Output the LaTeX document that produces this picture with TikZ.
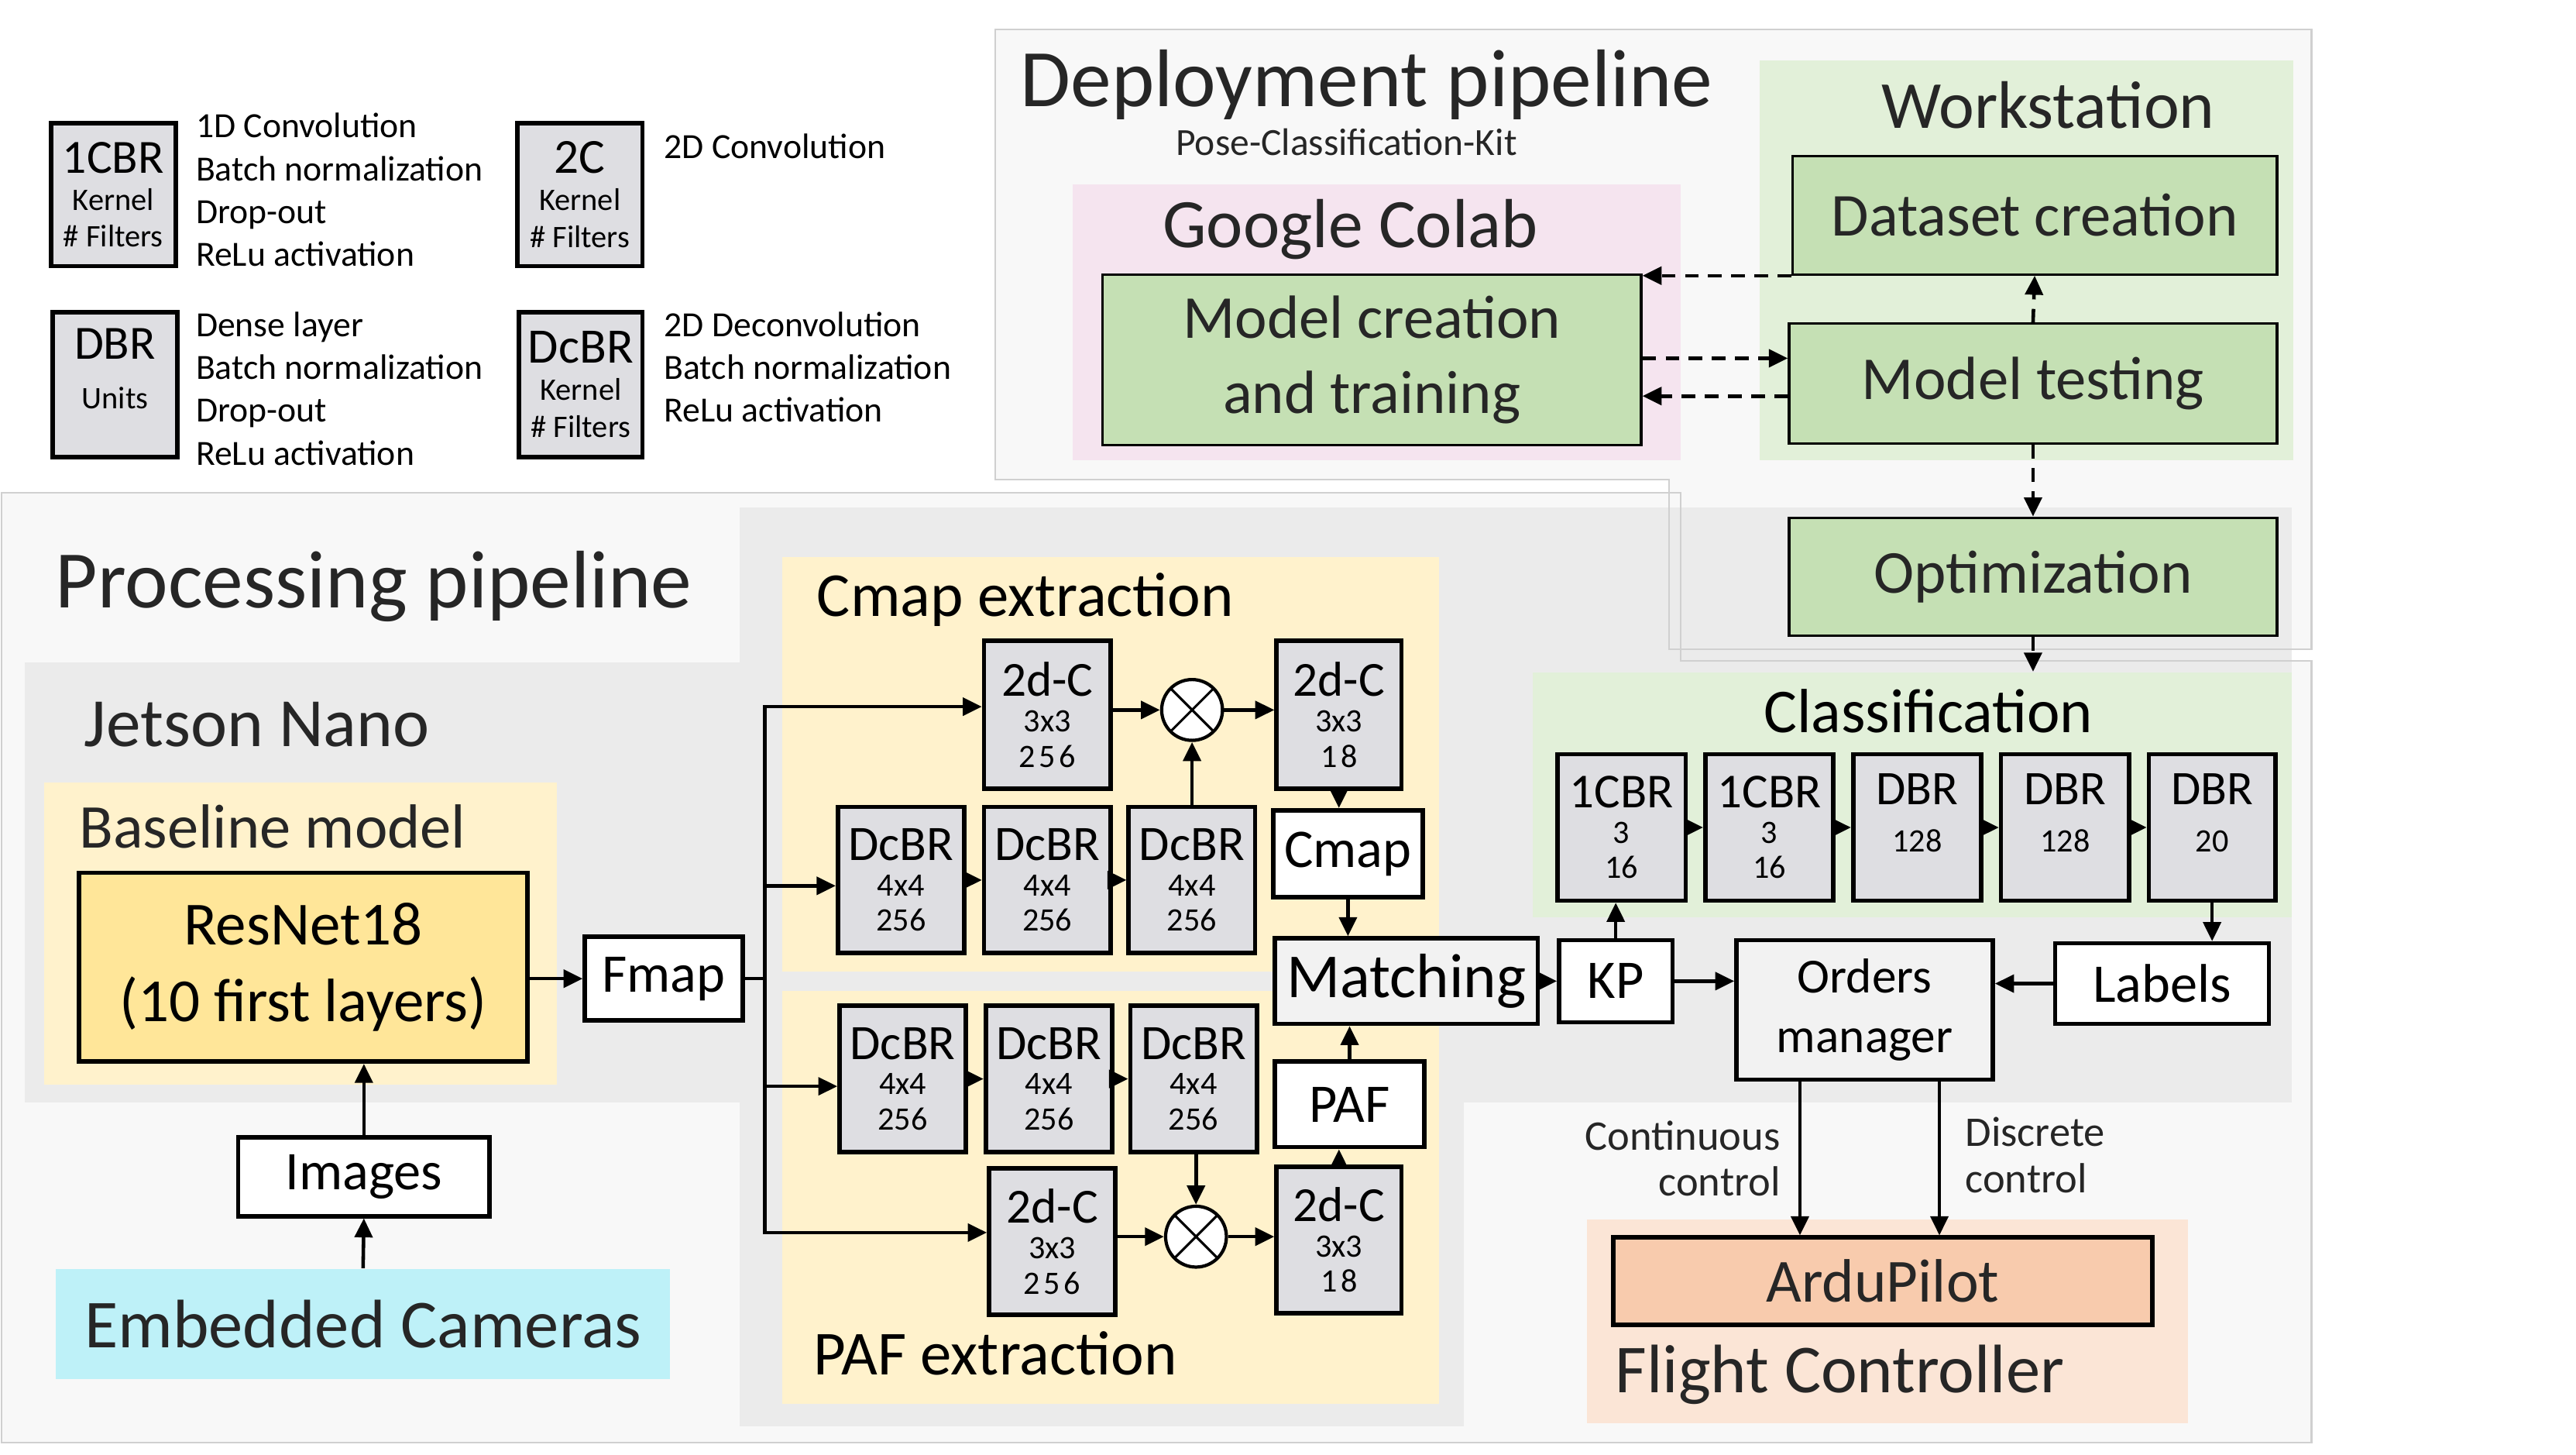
\documentclass[tikz,border=0pt]{standalone}
\usepackage{fontspec}
\setmainfont{Carlito}
\usetikzlibrary{arrows.meta}
\definecolor{panelfill}{HTML}{F8F8F8}
\definecolor{panelline}{HTML}{D0D0D0}
\definecolor{jetfill}{HTML}{EBEBEB}
\definecolor{yel}{HTML}{FFF2CC}
\definecolor{resfill}{HTML}{FFE699}
\definecolor{grnreg}{HTML}{E2F0D9}
\definecolor{grnbox}{HTML}{C5E0B4}
\definecolor{pinkreg}{HTML}{F5E4EF}
\definecolor{orreg}{HTML}{FBE5D6}
\definecolor{orbox}{HTML}{F8CBAD}
\definecolor{cyanreg}{HTML}{BEF1F8}
\definecolor{laygray}{HTML}{DEDEE2}
\definecolor{lightbox}{HTML}{F2F2F2}
\definecolor{headtxt}{HTML}{262626}
\newcommand\myfs[2]{\fontsize{#1}{#2}\selectfont}
\newcommand\spc[1]{{\addfontfeature{LetterSpace=11}#1}}
\begin{document}
\begin{tikzpicture}[x=0.021212cm,y=-0.021212cm,
 bb/.style n args={4}{minimum width={(#3-#1)*0.021212cm}, minimum height={(#4-#2)*0.021212cm},
   at={({(#1+#3)/2},{(#2+#4)/2})}},
 layer/.style={draw=black, line width=1.6pt, fill=laygray, inner sep=0pt, align=center, font=\myfs{12}{13}},
 lgbox/.style={draw=black, line width=1.6pt, fill=laygray, inner sep=0pt, align=center, font=\myfs{11.5}{13.6}},
 wbox/.style={draw=black, line width=1.6pt, fill=white, inner sep=0pt, align=center},
 gbox/.style={draw=black, line width=0.9pt, fill=grnbox, inner sep=0pt, align=center, text=headtxt, font=\myfs{22.4}{27.8}},
 region/.style={inner sep=0pt, draw=none},
 arr/.style={line width=1.3pt, -{Triangle[length=7pt,width=6.5pt]}},
 darr/.style={line width=1.3pt, dash pattern=on 5pt off 3.5pt, -{Triangle[length=7pt,width=6.5pt]}},
 otimes/.style={circle, draw=black, line width=1.2pt, fill=white, minimum size=0.785cm, inner sep=0pt,
   path picture={\draw[line width=0.9pt] (path picture bounding box.north west) -- (path picture bounding box.south east)
   (path picture bounding box.north east) -- (path picture bounding box.south west);}},
 head/.style={inner sep=0pt, text=headtxt},
 legtxt/.style={inner sep=0pt, align=left, font=\myfs{13}{15.7}},
 panel/.style={fill=panelfill},
 panelborder/.style={draw=panelline, line width=0.6pt},
]
\fill[white] (0,0) rectangle (1568,885);
\useasboundingbox (0,0) rectangle (1568,885);

% ---------- panels ----------
\fill[panel] (606,18) -- (1407,18) -- (1407,395) -- (1016,395) -- (1016,292) -- (606,292) -- cycle;
\fill[panel] (1,300) -- (1023,300) -- (1023,402) -- (1407,402) -- (1407,878) -- (1,878) -- cycle;
\fill[jetfill] (15,403) rectangle (450,671);
\fill[jetfill] (450,309) rectangle (1395,671);
\fill[jetfill] (450,671) rectangle (891,868);
\draw[panelborder] (606,18) -- (1407,18) -- (1407,395) -- (1016,395) -- (1016,292) -- (606,292) -- cycle;
\draw[panelborder] (1,300) -- (1023,300) -- (1023,402) -- (1407,402) -- (1407,878) -- (1,878) -- cycle;

% ---------- regions ----------
\node[region, fill=pinkreg, bb={653}{112}{1023}{280}] (colab) {};
\node[region, fill=grnreg, bb={1071}{37}{1396}{280}] (work) {};
\node[region, fill=yel, bb={27}{476}{339}{660}] (base) {};
\node[region, fill=yel, bb={476}{339}{876}{591}] (cmapreg) {};
\node[region, fill=yel, bb={476}{603}{876}{854}] (pafreg) {};
\node[region, fill=grnreg, bb={933}{409}{1395}{558}] (cls) {};
\node[region, fill=orreg, bb={966}{742}{1332}{866}] (fc) {};
\node[region, fill=cyanreg, text=headtxt, font=\myfs{25.2}{30}, bb={34}{772}{408}{839}] (cam) {Embedded Cameras};

% ---------- legend ----------
\node[lgbox, bb={31}{75}{107}{162}] (lg1) {{\myfs{17.5}{13}1CBR}\\Kernel\\\# Filters};
\node[lgbox, bb={315}{75}{391}{162}] (lg2) {{\myfs{18}{13}2C}\\Kernel\\\# Filters};
\node[lgbox, bb={32}{190}{108}{278}] (lg3) {{\myfs{17.5}{13}DBR}\\[4.5pt]Units\\[-6pt]\strut};
\node[lgbox, bb={316}{190}{391}{278}] (lg4) {{\myfs{18.2}{13}DcBR}\\Kernel\\\# Filters};
\node[legtxt, anchor=west] (lt1) at (119,115.5) {1D Convolution\\Batch normalization\\Drop-out\\ReLu activation};
\node[legtxt, anchor=west] (lt2) at (404,89) {2D Convolution};
\node[legtxt, anchor=west] (lt3) at (119,236.5) {Dense layer\\Batch normalization\\Drop-out\\ReLu activation};
\node[legtxt, anchor=west] (lt4) at (404,223.5) {2D Deconvolution\\Batch normalization\\ReLu activation};

% ---------- deployment ----------
\node[head, anchor=base west, font=\myfs{30}{36}] (tdep) at (621,65) {Deployment pipeline};
\node[head, anchor=base, font=\myfs{14.1}{16}] (tpck) at (819.6,94.6) {Pose-Classification-Kit};
\node[head, anchor=base, font=\myfs{25.5}{30}] (tcolab) at (822,150.5) {Google Colab};
\node[head, anchor=base, font=\myfs{24.7}{30}] (twork) at (1246.7,78) {Workstation};
\node[gbox, bb={1091}{95}{1386}{167}] (ds) {Dataset creation};
\node[gbox, bb={1089}{197}{1386}{270}] (mt) {Model testing};
\node[gbox, bb={671}{167}{999}{271}] (mc) {Model creation\\and training};
\node[gbox, bb={1089}{315}{1386}{387}] (opt) {Optimization};
\coordinate (yA) at (0,218);
\coordinate (yB) at (0,241);
\draw[darr] (ds.south west) -- (ds.south west -| mc.east);
\draw[darr] (mc.east |- yA) -- (mt.west |- yA);
\draw[darr] (mt.west |- yB) -- (mc.east |- yB);
\draw[darr] (mt.north) -- (ds.south);
\draw[darr] (mt.south) -- (opt.north);
\draw[darr] (opt.south) -- (opt.south |- cls.north);

% ---------- processing ----------
\node[head, anchor=base west, font=\myfs{30}{36}] (tproc) at (33.6,369.6) {Processing pipeline};
\node[head, anchor=base west, font=\myfs{25.4}{30}] (tjet) at (51,454) {Jetson Nano};
\node[head, anchor=base west, font=\myfs{22.9}{28}] (tbase) at (48,516) {Baseline model};
\node[head, anchor=base west, font=\myfs{23}{28}, text=black] (tcmap) at (497,375) {Cmap extraction};
\node[head, anchor=base west, font=\myfs{23}{28}, text=black] (tpaf) at (495,836.6) {PAF extraction};
\node[head, anchor=base, font=\myfs{22.9}{28}, text=black] (tcls) at (1173.7,445.7) {Classification};
\node[head, anchor=base west, font=\myfs{25.2}{30}] (tfc) at (983,847.5) {Flight Controller};
\node[head, anchor=east, align=right, font=\myfs{15.5}{17}] (tcont) at (1084,705) {Continuous\\control};
\node[head, anchor=west, align=left, font=\myfs{15.5}{17}] (tdisc) at (1196,703) {Discrete\\control};

\node[draw=black, line width=1.6pt, fill=resfill, inner sep=0pt, align=center, font=\myfs{22.5}{28.4}, bb={48}{531}{321}{646}] (resnet) {ResNet18\\(10 first layers)};
\node[wbox, font=\myfs{20}{24}, bb={356}{570}{452}{621}] (fmap) {Fmap};
\node[wbox, font=\myfs{20}{24}, bb={145}{692}{298}{740}] (img) {Images};

% Cmap extraction
\node[layer, bb={599}{390}{676}{480}] (c1) {{\myfs{18}{13}2d-C}\\3x3\\\spc{256}};
\node[layer, bb={777}{390}{853}{480}] (c2) {{\myfs{18}{13}2d-C}\\3x3\\\spc{18}};
\node[layer, bb={510}{491}{587}{580}] (d1) {{\myfs{18.2}{13}DcBR}\\4x4\\256};
\node[layer, bb={599}{491}{676}{580}] (d2) {{\myfs{18.2}{13}DcBR}\\4x4\\256};
\node[layer, bb={687}{491}{764}{580}] (d3) {{\myfs{18.2}{13}DcBR}\\4x4\\256};
\node[wbox, font=\myfs{20}{24}, bb={775}{493}{866}{546}] (cmap) {Cmap};
\node[otimes] (ot1) at (725.6,432) {};

% PAF extraction
\node[layer, bb={511}{612}{588}{701}] (pd1) {{\myfs{18.2}{13}DcBR}\\4x4\\256};
\node[layer, bb={600}{612}{677}{701}] (pd2) {{\myfs{18.2}{13}DcBR}\\4x4\\256};
\node[layer, bb={688}{612}{765}{701}] (pd3) {{\myfs{18.2}{13}DcBR}\\4x4\\256};
\node[layer, bb={602}{711}{679}{800}] (pc1) {{\myfs{18}{13}2d-C}\\3x3\\\spc{256}};
\node[layer, bb={777}{710}{853}{799}] (pc2) {{\myfs{18}{13}2d-C}\\3x3\\\spc{18}};
\node[wbox, font=\myfs{20}{24}, bb={776}{646}{867}{698}] (paf) {PAF};
\node[otimes] (ot2) at (728,752.5) {};

\node[wbox, fill=lightbox, font=\myfs{23}{28}, bb={776}{571}{936}{623}] (match) {Matching};
\node[wbox, font=\myfs{20}{24}, bb={949}{572}{1018}{622}] (kp) {KP};
\node[wbox, fill=lightbox, font=\myfs{18}{21.7}, bb={1057}{572}{1213}{657}] (orders) {Orders\\manager};
\node[wbox, font=\myfs{20}{24}, bb={1251}{574}{1381}{623}] (labels) {Labels};

% Classification
\node[layer, bb={948}{459}{1026}{548}] (cb1) {{\myfs{17.9}{13}1CBR}\\3\\16};
\node[layer, bb={1038}{459}{1116}{548}] (cb2) {{\myfs{17.9}{13}1CBR}\\3\\16};
\node[layer, bb={1128}{459}{1206}{548}] (cb3) {{\myfs{17.7}{13}DBR}\\[4.5pt]128\\[-6pt]\strut};
\node[layer, bb={1218}{459}{1296}{548}] (cb4) {{\myfs{17.7}{13}DBR}\\[4.5pt]128\\[-6pt]\strut};
\node[layer, bb={1308}{459}{1385}{548}] (cb5) {{\myfs{17.7}{13}DBR}\\[4.5pt]20\\[-6pt]\strut};

\node[draw=black, line width=1.6pt, fill=orbox, inner sep=0pt, text=headtxt, font=\myfs{22.5}{27}, bb={982}{753}{1310}{806}] (ardu) {ArduPilot};

% ---------- connectors ----------
\coordinate (busA) at (465.5,430);
\coordinate (busB) at (465.5,539);
\coordinate (busC) at (465.5,661);
\coordinate (busD) at (465.5,750);
\draw[arr] (cam.north) -- (img.south);
\draw[arr] (img.north) -- (img.north |- resnet.south);
\draw[arr] (resnet.east |- fmap.west) -- (fmap.west);
\draw[line width=1.3pt] (fmap.east) -- (fmap.east -| busA);
\draw[line width=1.3pt, {Triangle[length=7pt,width=6.5pt]}-{Triangle[length=7pt,width=6.5pt]}]
   (busD -| pc1.west) -- (busD) -- (busA) -- (busA -| c1.west);
\draw[arr] (busB) -- (busB -| d1.west);
\draw[arr] (busC) -- (busC -| pd1.west);

\draw[arr] (c1.east |- ot1.west) -- (ot1.west);
\draw[arr] (ot1.east) -- (ot1.east -| c2.west);
\draw[arr] (ot1.south |- d3.north) -- (ot1.south);
\draw[arr] (d1.east) -- (d2.west);
\draw[arr] (d2.east) -- (d3.west);
\draw[arr] (c2.south) -- (c2.south |- cmap.north);
\draw[arr] (cmap.south) -- (cmap.south |- match.north);

\draw[arr] (pd1.east) -- (pd2.west);
\draw[arr] (pd2.east) -- (pd3.west);
\draw[arr] (ot2.north |- pd3.south) -- (ot2.north);
\draw[arr] (pc1.east |- ot2.west) -- (ot2.west);
\draw[arr] (ot2.east) -- (ot2.east -| pc2.west);
\draw[arr] (pc2.north) -- (pc2.north |- paf.south);
\draw[arr] (paf.north) -- (paf.north |- match.south);

\draw[arr] (match.east) -- (kp.west);
\draw[arr] (kp.north) -- (kp.north |- cb1.south);
\draw[arr] (kp.east) -- (kp.east -| orders.west);
\draw[arr] (labels.west) -- (labels.west -| orders.east);
\draw[arr] (cb5.south) -- (cb5.south |- labels.north);
\draw[arr] (cb1.east) -- (cb2.west);
\draw[arr] (cb2.east) -- (cb3.west);
\draw[arr] (cb3.east) -- (cb4.west);
\draw[arr] (cb4.east) -- (cb5.west);

\coordinate (ctlA) at (1095.6,0);
\coordinate (ctlB) at (1180.5,0);
\draw[arr] (orders.south -| ctlA) -- (ardu.north -| ctlA);
\draw[arr] (orders.south -| ctlB) -- (ardu.north -| ctlB);
\end{tikzpicture}
\end{document}
